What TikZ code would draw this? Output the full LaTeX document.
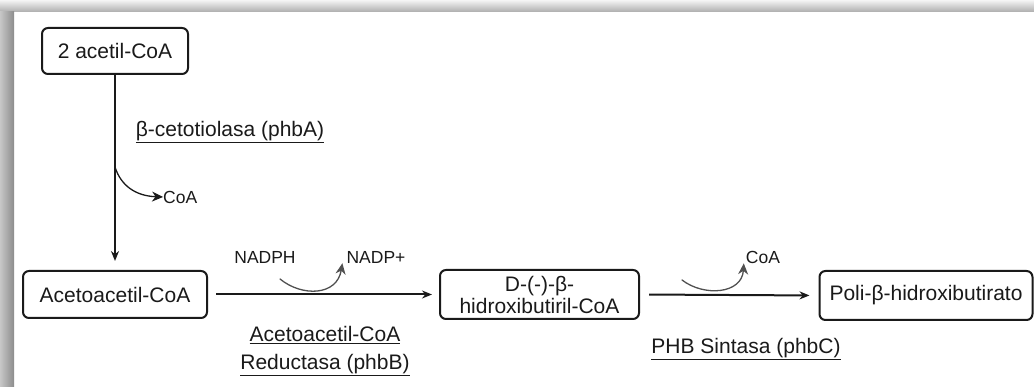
\documentclass[tikz,border=0pt]{standalone}
\usepackage{fontspec}
\setmainfont{Liberation Sans}
\usetikzlibrary{arrows.meta}
\definecolor{ink}{HTML}{1A1A1A}
\definecolor{curve}{HTML}{505050}
\tikzset{
  box/.style={draw=ink, line width=2pt, rounded corners=6pt, align=center, inner sep=0pt,
    font=\fontsize{21}{22}\selectfont, text=ink},
  lbl/.style={font=\fontsize{21}{28}\selectfont, text=ink, align=center, inner sep=0pt},
  small/.style={font=\fontsize{17.5}{19}\selectfont, text=ink, inner sep=0pt},
  flow/.style={draw=ink, line width=2pt, -{Stealth[length=10pt,width=8pt]}},
  side/.style={draw=curve, line width=1.3pt, -{Stealth[length=11pt,width=10pt]}, line cap=round}
}
\begin{document}
\begin{tikzpicture}[x=1pt,y=-1pt]
\useasboundingbox (0,0) rectangle (1034,387);
\fill[white] (0,0) rectangle (1034,387);
% shadow frame
\shade[top color=white!96!black, bottom color=black!32] (0,0) rectangle (1034,12);
\shade[left color=black!22, right color=black!45] (0,12) rectangle (14,387);

% boxes
\node[box, minimum width=146pt, minimum height=46pt] (a) at (115,51) {2 acetil-CoA};
\node[box, minimum width=184pt, minimum height=47pt] (b) at (115,294.5) {Acetoacetil-CoA};
\node[box, minimum width=199pt, minimum height=49pt] (c) at (539.5,294.5) {D-(-)-β-\\hidroxibutiril-CoA};
\node[box, minimum width=213pt, minimum height=49pt] (d) at (926,295.5) {Poli-β-hidroxibutirato};

% main arrows
\draw[flow, shorten >=9pt] (a.south) -- (b.north);
\draw[flow, shorten <=8pt, shorten >=7pt] (b.east) -- (c.west);
\draw[flow, shorten <=9pt, shorten >=9pt] (c.east) -- (d.west);

% enzyme labels
\node[lbl] (e1) at (230,132) {\underline{β-cetotiolasa (phbA)}};
\node[lbl] (e2) at (325,351) {\underline{Acetoacetil-CoA}\\\underline{Reductasa (phbB)}};
\node[lbl] (e3) at (746,349) {\underline{PHB Sintasa (phbC)}};

% side products
\coordinate (s1) at (115,167);
\node[small, anchor=west] (coa1) at (163,197) {CoA};
\draw[side, draw=ink] (s1) .. controls (121,186) and (136,196) .. (coa1.west);

\node[small] (nadph) at (265,257) {NADPH};
\node[small] (nadp) at (376,257) {NADP+};
\coordinate (n1) at (280,279);
\draw[side] (n1) .. controls (302,297) and (337,296) .. ([xshift=-4pt]nadp.south west);

\node[small] (coa2) at (763,257) {CoA};
\coordinate (n2) at (682,280);
\draw[side] (n2) .. controls (704,297) and (742,294) .. ([xshift=-2pt]coa2.south west);
\end{tikzpicture}
\end{document}
